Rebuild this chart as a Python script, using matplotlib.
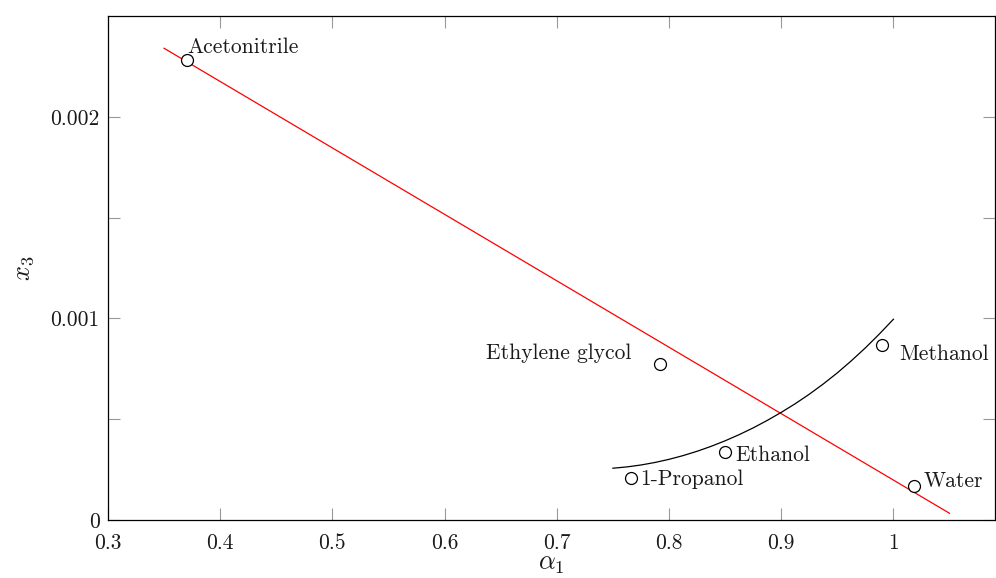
"""
Solvent selectivity plot: x3 against alpha1 for a set of solvents,
with a linear trend (red) and the curved fit (black).
"""

import matplotlib

matplotlib.use("Agg")
import matplotlib.pyplot as plt
from matplotlib.ticker import FixedLocator

plt.rcParams["mathtext.fontset"] = "cm"
plt.rcParams["font.family"] = ["cmr10", "DejaVu Serif"]
plt.rcParams["axes.formatter.use_mathtext"] = True

# Measured solvents
solvents = ["Acetonitrile", "Ethylene glycol", "1-Propanol", "Ethanol", "Methanol", "Water"]
alpha1 = [0.370, 0.792, 0.766, 0.850, 0.990, 1.018]
x3 = [0.00228, 0.000774, 0.00021, 0.000337, 0.000867, 0.000169]

# Linear trend line (end points)
trend_alpha = [0.35, 1.05]
trend_x3 = [0.00234, 0.0000333]

# Curved fit, sampled along alpha1
curve_alpha = [0.75, 0.7625, 0.775, 0.7875, 0.80, 0.8125, 0.825, 0.8375, 0.85,
               0.8625, 0.875, 0.8875, 0.90, 0.9125, 0.925, 0.9375, 0.95,
               0.9625, 0.975, 0.9875, 1.00]
curve_x3 = [0.000257, 0.0002635, 0.000273, 0.0002855, 0.000301, 0.0003195,
            0.000341, 0.0003655, 0.000393, 0.0004235, 0.000457, 0.000494,
            0.000534, 0.000577, 0.000624, 0.000675, 0.000730, 0.000790,
            0.000854, 0.000923, 0.000996]

x_ticks = [0.3, 0.4, 0.5, 0.6, 0.7, 0.8, 0.9, 1.0]
x_tick_labels = ["0.3", "0.4", "0.5", "0.6", "0.7", "0.8", "0.9", "1"]
y_ticks = [0.0, 0.001, 0.002]
y_tick_labels = ["0", "0.001", "0.002"]
y_minor = [0.0005, 0.0015]

# label placement (offset in pixels from the marker, alignment)
label_pos = {
    "Acetonitrile": ((1, 13), "left"),
    "Ethylene glycol": ((-29, 11), "right"),
    "1-Propanol": ((9, -2), "left"),
    "Ethanol": ((10, -3), "left"),
    "Methanol": ((17, -9), "left"),
    "Water": ((10, 5), "left"),
}


def main() -> None:
    fig = plt.figure(figsize=(9.96, 5.78), dpi=100)
    ax = fig.add_axes([0.1084, 0.1003, 0.8906, 0.872])

    ax.plot(trend_alpha, trend_x3, color="red", lw=0.9)
    ax.plot(curve_alpha, curve_x3, color="black", lw=0.9)
    ax.plot(alpha1, x3, linestyle="none", marker="o", markersize=8.6,
            markerfacecolor="white", markeredgecolor="black", markeredgewidth=0.9)

    for name, a, x in zip(solvents, alpha1, x3):
        offset, ha = label_pos[name]
        ax.annotate(name, (a, x), xytext=offset, textcoords="offset pixels",
                    ha=ha, va="center", fontsize=15.5, color="#1a1a1a")

    ax.set_xlim(0.3, 1.0905)
    ax.set_ylim(0, 0.0025)

    ax.xaxis.set_major_locator(FixedLocator(x_ticks))
    ax.set_xticklabels(x_tick_labels)
    ax.yaxis.set_major_locator(FixedLocator(y_ticks))
    ax.set_yticklabels(y_tick_labels)
    ax.yaxis.set_minor_locator(FixedLocator(y_minor))

    ax.tick_params(which="both", direction="in", top=True, right=True,
                   length=8.6, width=0.8, color="#999999", labelsize=15.5,
                   labelcolor="#1a1a1a")
    ax.tick_params(axis="x", pad=10)
    ax.tick_params(axis="y", pad=6)

    for spine in ax.spines.values():
        spine.set_linewidth(0.9)
        spine.set_color("black")

    ax.set_xlabel(r"$\alpha_1$", fontsize=19, labelpad=-1, color="#1a1a1a")
    ax.set_ylabel(r"$x_3$", fontsize=19, labelpad=10, color="#1a1a1a")

    fig.savefig("out.png", dpi=100)
    plt.close(fig)


if __name__ == "__main__":
    main()
